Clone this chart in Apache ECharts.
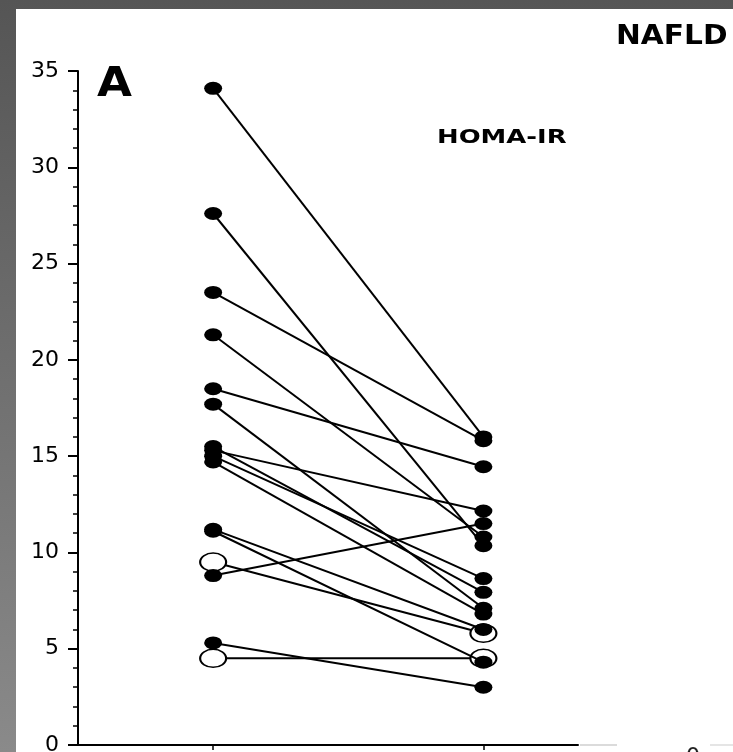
<!DOCTYPE html>
<html>
<head>
<meta charset="utf-8">
<script src="https://cdn.jsdelivr.net/npm/echarts@6/dist/echarts.min.js"></script>
<style>
  html, body { margin: 0; padding: 0; background: #555; }
  #chart { width: 733px; height: 752px; }
</style>
</head>
<body>
<div id="chart"></div>
<script>
// Time points (x positions of the two columns)
const timepoints = [1, 2];
// HOMA-IR before and after for each subject
const before = [34.1, 27.6, 23.5, 21.3, 18.5, 17.7, 15.5, 15.3, 15.0, 14.7, 11.2, 11.1, 9.5, 8.8, 5.3, 4.5];
const after  = [16.0, 10.35, 15.8, 10.8, 14.45, 7.1, 7.93, 12.15, 8.64, 6.8, 6.0, 4.3, 5.8, 11.5, 3.0, 4.5];
// 1 = open marker subject
const openMarker = [0, 0, 0, 0, 0, 0, 0, 0, 0, 0, 0, 0, 1, 0, 0, 1];
// Y axis ticks
const yMin = 0, yMax = 35, yInterval = 5;
const panelLabel = 'A';
const titleText = 'NAFLD';
const subtitleText = 'HOMA-IR';

const ellipse = 'path://M0,50A50,50,0,1,1,100,50A50,50,0,1,1,0,50Z';

const series = before.map(function (b, i) {
  const open = openMarker[i] === 1;
  return {
    type: 'line',
    data: [[timepoints[0], b], [timepoints[1], after[i]]],
    symbol: ellipse,
    symbolSize: open ? [26, 18] : [18, 13],
    showSymbol: true,
    itemStyle: { color: open ? '#ffffff' : '#000000', borderColor: '#000', borderWidth: open ? 1.8 : 0, opacity: 1 },
    lineStyle: { color: '#000', width: 2 },
    z: open ? 2 : 3,
    silent: true,
    animation: false
  };
});

const chart = echarts.init(document.getElementById('chart'), null, { renderer: 'canvas' });
chart.setOption({
  backgroundColor: {
    type: 'linear', x: 0, y: 0, x2: 0, y2: 1,
    colorStops: [{ offset: 0, color: '#555555' }, { offset: 1, color: '#8a8a8a' }]
  },
  animation: false,
  grid: { left: 78, right: 155, top: 71, bottom: 7, containLabel: false, outerBoundsMode: 'none' },
  xAxis: {
    type: 'value',
    min: 0.5,
    max: 2.35,
    axisLine: { show: true, lineStyle: { color: '#000', width: 2 } },
    axisTick: { show: true, customValues: timepoints, length: 5, lineStyle: { color: '#000', width: 1.5 } },
    axisLabel: { show: false },
    splitLine: { show: false }
  },
  yAxis: {
    type: 'value',
    min: yMin,
    max: yMax,
    interval: yInterval,
    axisLine: { show: true, lineStyle: { color: '#000', width: 2 } },
    axisTick: { show: true, inside: false, length: 10, lineStyle: { color: '#000', width: 2 } },
    minorTick: { show: true, splitNumber: 5, length: 5, lineStyle: { color: '#000', width: 1.5 } },
    axisLabel: { fontSize: 22, fontFamily: 'DejaVu Sans', color: '#000', margin: 19 },
    splitLine: { show: false }
  },
  graphic: [
    { type: 'rect', shape: { x: 16, y: 9, width: 733, height: 760 }, style: { fill: '#ffffff' }, z: -10, silent: true },
    { type: 'text', x: 97, y: 86, scaleX: 1.13, style: { text: panelLabel, font: 'bold 40px "DejaVu Sans"', fill: '#000', textAlign: 'left', textVerticalAlign: 'middle' }, z: 10 },
    { type: 'text', x: 616, y: 37, scaleX: 1.14, style: { text: titleText, font: 'bold 26px "DejaVu Sans"', fill: '#000', textAlign: 'left', textVerticalAlign: 'middle' }, z: 10 },
    { type: 'text', x: 437, y: 138, scaleX: 1.36, style: { text: subtitleText, font: 'bold 19px "DejaVu Sans"', fill: '#000', textAlign: 'left', textVerticalAlign: 'middle' }, z: 10 },
    { type: 'line', shape: { x1: 580, y1: 745, x2: 617, y2: 745 }, style: { stroke: '#cfcfcf', lineWidth: 1.5 }, z: 5 },
    { type: 'line', shape: { x1: 710, y1: 745, x2: 733, y2: 745 }, style: { stroke: '#dcdcdc', lineWidth: 1.5 }, z: 5 },
    { type: 'text', x: 686, y: 746, style: { text: '0', font: '22px "DejaVu Sans"', fill: '#222', textAlign: 'left', textVerticalAlign: 'top' }, z: 5 }
  ],
  series: series
});
</script>
</body>
</html>
